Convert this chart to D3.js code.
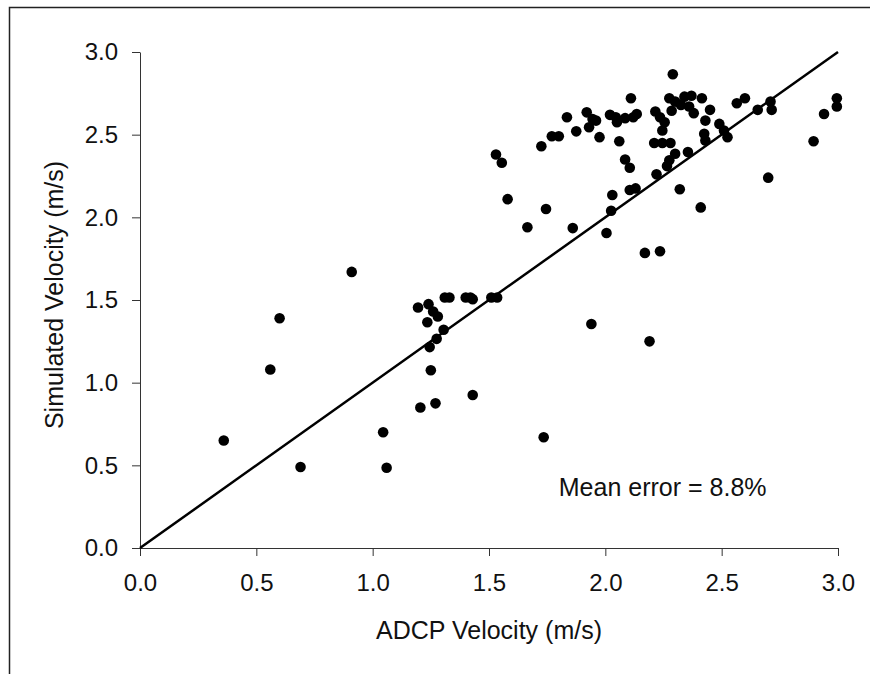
<!DOCTYPE html>
<html>
<head>
<meta charset="utf-8">
<script src="https://cdn.jsdelivr.net/npm/d3@7"></script>
<style>
    body { margin: 0; background: #fff; }
    text { font-family: Arial, "Liberation Sans", sans-serif; fill: #111; }
</style>
</head>
<body>
<div id="chart"></div>
<script>

// ADCP (measured) velocity, m/s
var adcpVel = [
    0.36, 0.56, 0.60, 0.69, 0.91, 1.045, 1.06, 1.205, 1.195, 1.24,
    1.26, 1.28, 1.235, 1.245, 1.25, 1.27, 1.275, 1.305, 1.31, 1.33,
    1.40, 1.42, 1.43, 1.43, 1.51, 1.535, 1.53, 1.555, 1.58, 1.665,
    1.735, 1.745, 1.725, 1.77, 1.80, 1.835, 1.86, 1.875, 1.92, 1.94,
    1.945, 1.96, 1.93, 1.975, 2.005, 2.025, 2.03, 2.02, 2.045, 2.05,
    2.085, 2.12, 2.135, 2.06, 2.085, 2.105, 2.105, 2.13, 2.11, 2.17,
    2.19, 2.235, 2.215, 2.235, 2.255, 2.245, 2.21, 2.245, 2.28, 2.30,
    2.275, 2.265, 2.22, 2.32, 2.275, 2.30, 2.29, 2.285, 2.34, 2.37,
    2.415, 2.45, 2.38, 2.36, 2.325, 2.43, 2.49, 2.51, 2.525, 2.425,
    2.43, 2.355, 2.41, 2.565, 2.60, 2.655, 2.71, 2.715, 2.70, 2.895,
    2.94, 2.995, 2.995
];

// Simulated velocity, m/s (same order as adcpVel)
var simVel = [
    0.65, 1.08, 1.39, 0.49, 1.67, 0.70, 0.485, 0.85, 1.455, 1.475,
    1.43, 1.40, 1.365, 1.215, 1.075, 0.875, 1.265, 1.32, 1.515, 1.515,
    1.515, 1.515, 1.505, 0.925, 1.515, 1.515, 2.38, 2.33, 2.11, 1.94,
    0.67, 2.05, 2.43, 2.49, 2.49, 2.605, 1.935, 2.52, 2.635, 1.355,
    2.595, 2.585, 2.545, 2.485, 1.905, 2.04, 2.135, 2.62, 2.605, 2.575,
    2.60, 2.605, 2.625, 2.46, 2.35, 2.30, 2.165, 2.175, 2.72, 1.785,
    1.25, 1.795, 2.64, 2.605, 2.575, 2.525, 2.45, 2.45, 2.45, 2.385,
    2.345, 2.31, 2.26, 2.17, 2.72, 2.70, 2.865, 2.645, 2.73, 2.735,
    2.72, 2.65, 2.63, 2.67, 2.68, 2.585, 2.565, 2.525, 2.485, 2.505,
    2.465, 2.395, 2.06, 2.69, 2.72, 2.65, 2.70, 2.65, 2.24, 2.46,
    2.625, 2.72, 2.67
];

var tickVals = [0, 0.5, 1.0, 1.5, 2.0, 2.5, 3.0];
var note = "Mean error = 8.8%";

var totalW = 870, totalH = 674;
var margin = { top: 52, right: 32, bottom: 126, left: 140 };
var width = 838 - margin.left,
    height = 548 - margin.top;

var points = adcpVel.map(function(d, i) { return { x: d, y: simVel[i] }; });

var svg = d3.select("#chart").append("svg")
    .attr("width", totalW)
    .attr("height", totalH);

// scanned page frame (left + top only)
svg.append("path")
    .attr("d", "M9.5," + totalH + "V7.5H" + totalW)
    .attr("fill", "none")
    .attr("stroke", "#222")
    .attr("stroke-width", 1.5);

var g = svg.append("g")
    .attr("transform", "translate(" + margin.left + "," + margin.top + ")");

// Scales and axes
var x = d3.scaleLinear().domain([0, 3]).range([0, width]);
var y = d3.scaleLinear().domain([0, 3]).range([height, 0]);

var xAxis = d3.axisBottom(x)
    .tickValues(tickVals)
    .tickFormat(d3.format(".1f"))
    .tickSize(8)
    .tickSizeOuter(0)
    .tickPadding(12);

var yAxis = d3.axisLeft(y)
    .tickValues(tickVals)
    .tickFormat(d3.format(".1f"))
    .tickSize(8)
    .tickSizeOuter(0)
    .tickPadding(12);

var gx = g.append("g")
    .attr("class", "x-axis axis")
    .attr("transform", "translate(0," + height + ")")
    .call(xAxis);

var gy = g.append("g")
    .attr("class", "y-axis axis")
    .call(yAxis);

g.selectAll(".axis path, .axis line")
    .attr("stroke", "#333")
    .attr("stroke-width", 1);

g.selectAll(".axis text")
    .attr("font-size", "24px")
    .attr("font-family", "Arial, 'Liberation Sans', sans-serif")
    .attr("fill", "#111");

gx.selectAll("text").attr("dy", "0.71em").attr("y", 26);
gy.selectAll("text").attr("x", -22);

// 1:1 line
g.append("line")
    .attr("x1", x(0)).attr("y1", y(0))
    .attr("x2", x(3)).attr("y2", y(3))
    .attr("stroke", "#000")
    .attr("stroke-width", 2.5);

// scatter
g.selectAll("circle.pt")
    .data(points)
    .enter()
    .append("circle")
    .attr("class", "pt")
    .attr("cx", function(d) { return x(d.x); })
    .attr("cy", function(d) { return y(d.y); })
    .attr("r", 5.3)
    .attr("fill", "#000");

// annotation
g.append("text")
    .attr("x", x(1.8))
    .attr("y", y(0.315))
    .attr("font-size", "25px")
    .text(note);

// axis titles
svg.append("text")
    .attr("x", margin.left + width / 2)
    .attr("y", 639)
    .attr("text-anchor", "middle")
    .attr("font-size", "25px")
    .text("ADCP Velocity (m/s)");

svg.append("text")
    .attr("transform", "translate(63," + 295 + ") rotate(-90)")
    .attr("text-anchor", "middle")
    .attr("font-size", "25px")
    .text("Simulated Velocity (m/s)");

</script>
</body>
</html>
